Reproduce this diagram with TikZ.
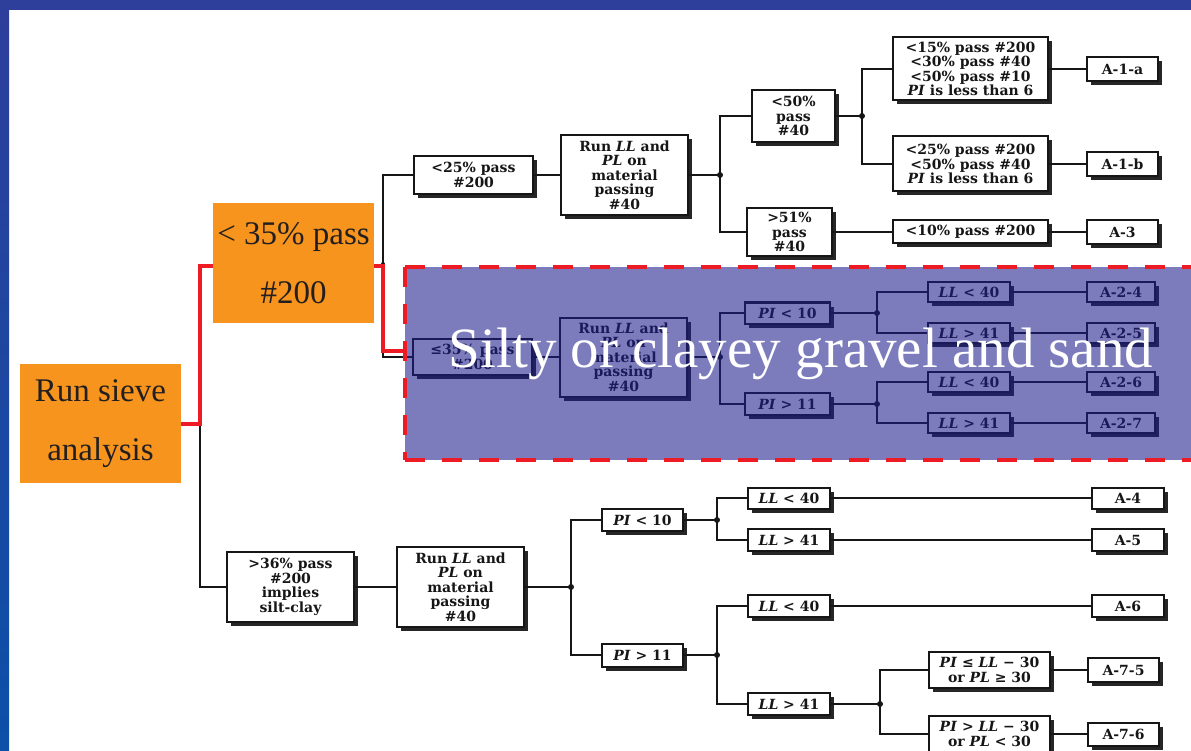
\documentclass[tikz,border=0pt]{standalone}
\usepackage{fontspec}
\usetikzlibrary{shadows}
\newfontfamily\schoolfont{DejaVu Serif}
\newfontfamily\slidefont{Liberation Serif}

\definecolor{frameblue}{RGB}{46,62,155}
\definecolor{frameblueb}{RGB}{12,80,168}
\definecolor{slideorange}{RGB}{247,148,30}
\definecolor{pathred}{RGB}{237,28,36}
\definecolor{veil}{RGB}{30,30,140}
\definecolor{ink}{RGB}{22,22,22}
\definecolor{slideink}{RGB}{35,31,32}

\tikzset{
  chartbox/.style={draw=ink, line width=2pt, fill=white, inner sep=0pt,
    align=center, text=ink,
    font=\schoolfont\bfseries\fontsize{14}{14.5}\selectfont,
    drop shadow={shadow xshift=4pt, shadow yshift=-4pt, opacity=1, fill=black!85}},
  wire/.style={draw=ink, line width=1.3pt},
  hub/.style={circle, fill=ink, inner sep=0pt, minimum size=6pt},
  orangebox/.style={fill=slideorange, inner sep=0pt, align=center, text=slideink,
    font=\slidefont\fontsize{33}{59}\selectfont},
  redpath/.style={draw=pathred, line width=3.8pt},
  veilbox/.style={fill=veil, fill opacity=0.58, inner sep=0pt},
  veilborder/.style={draw=pathred, line width=4pt, dash pattern=on 20pt off 17pt},
}

\begin{document}
\begin{tikzpicture}[x=1pt, y=-1pt]
\useasboundingbox (0,0) rectangle (1191,751);
\clip (0,0) rectangle (1191,751);

% slide background and frame
\fill[white] (0,0) rectangle (1191,751);
\fill[frameblue] (0,0) rectangle (1191,10);
\shade[top color=frameblue, bottom color=frameblueb] (0,0) rectangle (9,751);

% ---- upper branch: coarse material ----
\node[chartbox, minimum width=119, minimum height=38] (t25) at (473.5,175) {<25\% pass\\\#200};
\node[chartbox, minimum width=127, minimum height=80] (trun) at (624.5,175) {Run \textit{LL} and\\\textit{PL} on\\material\\passing\\\#40};
\node[hub] (j1) at (720,175) {};
\node[chartbox, minimum width=83, minimum height=52] (t50) at (793.5,116) {<50\%\\pass\\\#40};
\node[chartbox, minimum width=85, minimum height=48] (t51) at (789.5,232) {>51\%\\pass\\\#40};
\node[hub] (j2) at (862,116) {};
\node[chartbox, minimum width=155, minimum height=63] (t1a) at (970.5,69) {<15\% pass \#200\\<30\% pass \#40\\<50\% pass \#10\\\textit{PI} is less than 6};
\node[chartbox, minimum width=155, minimum height=55] (t1b) at (970.5,164) {<25\% pass \#200\\<50\% pass \#40\\\textit{PI} is less than 6};
\node[chartbox, minimum width=155, minimum height=23] (t10) at (970.5,232) {<10\% pass \#200};
\node[chartbox, minimum width=71, minimum height=24] (a1a) at (1122.5,69) {A-1-a};
\node[chartbox, minimum width=71, minimum height=24] (a1b) at (1122.5,164) {A-1-b};
\node[chartbox, minimum width=71, minimum height=24] (a3) at (1122.5,232) {A-3};

% ---- middle branch: A-2 group ----
\node[chartbox, minimum width=119, minimum height=36] (m35) at (472.5,357) {≤35\% pass\\\#200};
\node[chartbox, minimum width=127, minimum height=79] (mrun) at (623.5,357) {Run \textit{LL} and\\\textit{PL} on\\material\\passing\\\#40};
\node[hub] (j3) at (720,357) {};
\node[chartbox, minimum width=85, minimum height=21] (mpi10) at (787.5,313) {\textit{PI} < 10};
\node[chartbox, minimum width=85, minimum height=22] (mpi11) at (787.5,404) {\textit{PI} > 11};
\node[hub] (j4) at (877,313) {};
\node[hub] (j5) at (877,404) {};
\node[chartbox, minimum width=82, minimum height=20] (mll1) at (969,292) {\textit{LL} < 40};
\node[chartbox, minimum width=82, minimum height=20] (mll2) at (969,333) {\textit{LL} > 41};
\node[chartbox, minimum width=82, minimum height=20] (mll3) at (969,382) {\textit{LL} < 40};
\node[chartbox, minimum width=82, minimum height=20] (mll4) at (969,423) {\textit{LL} > 41};
\node[chartbox, minimum width=68, minimum height=20] (a24) at (1121,292) {A-2-4};
\node[chartbox, minimum width=68, minimum height=20] (a25) at (1121,333) {A-2-5};
\node[chartbox, minimum width=68, minimum height=20] (a26) at (1121,382) {A-2-6};
\node[chartbox, minimum width=68, minimum height=20] (a27) at (1121,423) {A-2-7};

% ---- lower branch: silt-clay ----
\node[chartbox, minimum width=127, minimum height=70] (b36) at (290.5,587) {>36\% pass\\\#200\\implies\\silt-clay};
\node[chartbox, minimum width=127, minimum height=80] (brun) at (460.5,587) {Run \textit{LL} and\\\textit{PL} on\\material\\passing\\\#40};
\node[hub] (j6) at (571,587) {};
\node[chartbox, minimum width=81, minimum height=22] (bpi10) at (642.5,520) {\textit{PI} < 10};
\node[chartbox, minimum width=81, minimum height=23] (bpi11) at (642.5,655) {\textit{PI} > 11};
\node[hub] (j7) at (717,520) {};
\node[hub] (j8) at (717,655) {};
\node[chartbox, minimum width=82, minimum height=21] (bll1) at (789,498) {\textit{LL} < 40};
\node[chartbox, minimum width=82, minimum height=22] (bll2) at (789,540) {\textit{LL} > 41};
\node[chartbox, minimum width=82, minimum height=22] (bll3) at (789,606) {\textit{LL} < 40};
\node[chartbox, minimum width=82, minimum height=22] (bll4) at (789,704) {\textit{LL} > 41};
\node[chartbox, minimum width=72, minimum height=21] (a4) at (1128,498) {A-4};
\node[chartbox, minimum width=72, minimum height=22] (a5) at (1128,540) {A-5};
\node[chartbox, minimum width=72, minimum height=22] (a6) at (1128,606) {A-6};
\node[hub] (j9) at (880,704) {};
\node[chartbox, minimum width=121, minimum height=36] (b75) at (989.5,670) {\textit{PI} ≤ \textit{LL} − 30\\or \textit{PL} ≥ 30};
\node[chartbox, minimum width=121, minimum height=37] (b76) at (989.5,734) {\textit{PI} > \textit{LL} − 30\\or \textit{PL} < 30};
\node[chartbox, minimum width=71, minimum height=24] (a75) at (1123.5,670) {A-7-5};
\node[chartbox, minimum width=71, minimum height=23] (a76) at (1123.5,734) {A-7-6};

% ---- tree junctions on the left ----
\node[hub, minimum size=4pt] (ka) at (200,424) {};
\node[hub, minimum size=4pt] (kb) at (383,264) {};

% ---- connectors ----
\draw[wire] (ka.center) |- (b36.west);
\draw[wire] (ka.center) |- (kb.center -| ka.center);
\draw[wire] (t25.west) -| (kb.center) |- (m35.west);
\draw[wire] (t25.east) -- (trun.west);
\draw[wire] (trun.east) -- (j1.center);
\draw[wire] (j1.center) |- (t50.west);
\draw[wire] (j1.center) |- (t51.west);
\draw[wire] (t50.east) -- (j2.center);
\draw[wire] (j2.center) |- (t1a.west);
\draw[wire] (j2.center) |- (t1b.west);
\draw[wire] (t1a.east) -- (a1a.west);
\draw[wire] (t1b.east) -- (a1b.west);
\draw[wire] (t51.east) -- (t10.west);
\draw[wire] (t10.east) -- (a3.west);

\draw[wire] (m35.east) -- (mrun.west);
\draw[wire] (mrun.east) -- (j3.center);
\draw[wire] (j3.center) |- (mpi10.west);
\draw[wire] (j3.center) |- (mpi11.west);
\draw[wire] (mpi10.east) -- (j4.center);
\draw[wire] (j4.center) |- (mll1.west);
\draw[wire] (j4.center) |- (mll2.west);
\draw[wire] (mpi11.east) -- (j5.center);
\draw[wire] (j5.center) |- (mll3.west);
\draw[wire] (j5.center) |- (mll4.west);
\draw[wire] (mll1.east) -- (a24.west);
\draw[wire] (mll2.east) -- (a25.west);
\draw[wire] (mll3.east) -- (a26.west);
\draw[wire] (mll4.east) -- (a27.west);

\draw[wire] (b36.east) -- (brun.west);
\draw[wire] (brun.east) -- (j6.center);
\draw[wire] (j6.center) |- (bpi10.west);
\draw[wire] (j6.center) |- (bpi11.west);
\draw[wire] (bpi10.east) -- (j7.center);
\draw[wire] (j7.center) |- (bll1.west);
\draw[wire] (j7.center) |- (bll2.west);
\draw[wire] (bpi11.east) -- (j8.center);
\draw[wire] (j8.center) |- (bll3.west);
\draw[wire] (j8.center) |- (bll4.west);
\draw[wire] (bll1.east) -- (a4.west);
\draw[wire] (bll2.east) -- (a5.west);
\draw[wire] (bll3.east) -- (a6.west);
\draw[wire] (bll4.east) -- (j9.center);
\draw[wire] (j9.center) |- (b75.west);
\draw[wire] (j9.center) |- (b76.west);
\draw[wire] (b75.east) -- (a75.west);
\draw[wire] (b76.east) -- (a76.west);

% ---- slide annotations ----
\node[orangebox, minimum width=161, minimum height=119] (sieve) at (100.5,423.5) {Run sieve\\analysis};
\node[orangebox, minimum width=161, minimum height=120] (o35) at (293.5,263) {< 35\% pass\\\#200};

% highlighted A-2 group
\node[veilbox, minimum width=792, minimum height=193] (ov) at (801,363.5) {};
\draw[veilborder] (ov.north west) -- (ov.north east) (ov.south west) -- (ov.south east) (ov.north west) -- (ov.south west);
\coordinate (redin) at (ov.west |- 0,351);

\draw[redpath] (sieve.east |- ka) -- (ka.center) |- (o35.west |- 0,266);
\draw[redpath] (o35.east |- 0,266) -| (kb.center |- 0,351) -- (redin);

\node[anchor=base, text=white, inner sep=0pt, font=\slidefont\fontsize{57}{57}\selectfont] (caption) at (801,367) {Silty or clayey gravel and sand};
\end{tikzpicture}
\end{document}
